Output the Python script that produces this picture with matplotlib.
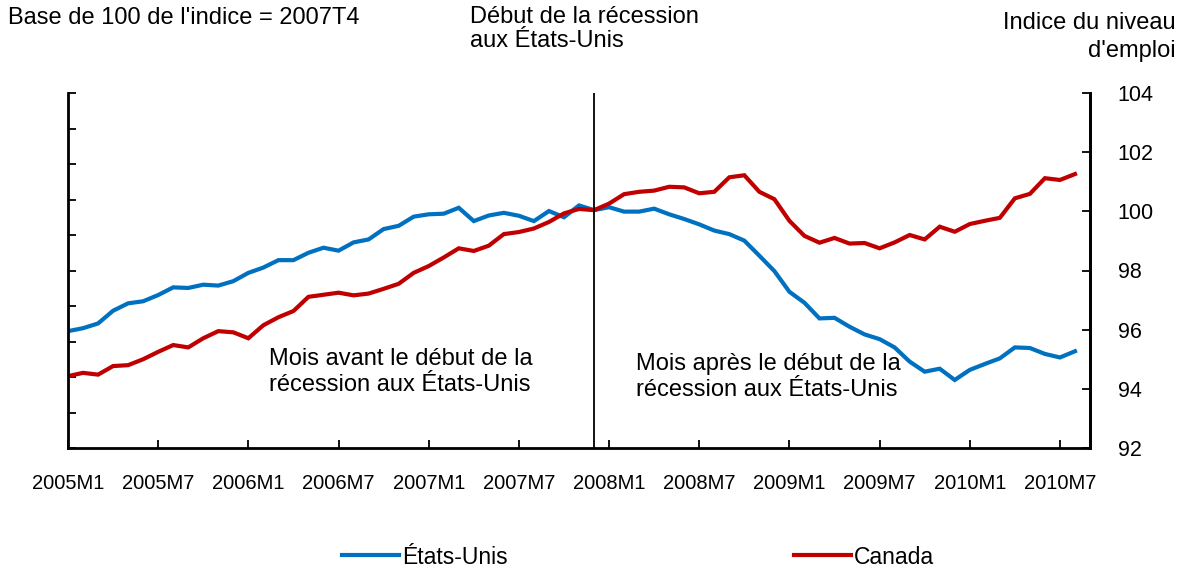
import numpy as np
import matplotlib.pyplot as plt

plt.rcParams['font.family'] = ['Liberation Sans', 'DejaVu Sans']

# months 2005M1 .. 2010M8
months = [f"{y}M{m}" for y in range(2005, 2011) for m in range(1, 13)][:68]
tick_labels = ["2005M1", "2005M7", "2006M1", "2006M7", "2007M1", "2007M7",
               "2008M1", "2008M7", "2009M1", "2009M7", "2010M1", "2010M7"]

etats_unis = [95.95, 96.05, 96.21, 96.64, 96.89, 96.96, 97.17, 97.43, 97.41, 97.52,
              97.49, 97.64, 97.92, 98.1, 98.35, 98.35, 98.6, 98.77, 98.67, 98.95,
              99.05, 99.40, 99.51, 99.82, 99.90, 99.92, 100.12, 99.67, 99.86, 99.95,
              99.85, 99.67, 100.01, 99.80, 100.2, 100.04, 100.14, 99.99, 99.99, 100.09,
              99.90, 99.74, 99.56, 99.35, 99.23, 99.01, 98.50, 97.98, 97.28, 96.91,
              96.38, 96.40, 96.10, 95.84, 95.68, 95.40, 94.92, 94.58, 94.68, 94.30,
              94.64, 94.84, 95.03, 95.40, 95.38, 95.18, 95.06, 95.27]

canada = [94.43, 94.54, 94.48, 94.77, 94.80, 95.00, 95.25, 95.48, 95.40, 95.71,
          95.95, 95.91, 95.71, 96.15, 96.42, 96.63, 97.11, 97.18, 97.25, 97.16,
          97.22, 97.38, 97.55, 97.92, 98.15, 98.44, 98.75, 98.66, 98.84, 99.23,
          99.30, 99.42, 99.64, 99.93, 100.08, 100.04, 100.26, 100.58, 100.66, 100.70,
          100.83, 100.81, 100.61, 100.66, 101.15, 101.22, 100.66, 100.41, 99.68, 99.17,
          98.94, 99.10, 98.91, 98.93, 98.75, 98.95, 99.20, 99.05, 99.48, 99.31,
          99.57, 99.68, 99.78, 100.44, 100.59, 101.12, 101.06, 101.26]

x = np.arange(len(months))
recession_start = months.index("2007M12")

fig = plt.figure(figsize=(11.82, 5.71), dpi=100)
ax = fig.add_axes([68 / 1182, 1 - 448 / 571, (1090 - 68) / 1182, (448 - 93) / 571])

ax.plot(x, etats_unis, color='#0070C0', lw=3, label='États-Unis', solid_joinstyle='miter')
ax.plot(x, canada, color='#C00000', lw=3, label='Canada', solid_joinstyle='miter')
ax.axvline(recession_start, color='black', lw=1.3)

ax.set_xlim(0, 68)
ax.set_ylim(92, 104)
ax.set_xticks([months.index(t) for t in tick_labels])
ax.set_xticklabels(tick_labels, fontsize=14.5)
ax.set_yticks(np.linspace(92, 104, 11))
ax.set_yticklabels([])
ax.tick_params(direction='in', length=6, width=1.3, pad=19)
ax.spines['top'].set_visible(False)
for s in ['left', 'right', 'bottom']:
    ax.spines[s].set_linewidth(2)

ax2 = ax.twinx()
ax2.set_ylim(92, 104)
ax2.set_yticks(np.arange(92, 105, 2))
ax2.tick_params(direction='in', length=6, width=1.3, labelsize=15.5, pad=20)
ax2.spines['top'].set_visible(False)
ax2.spines['right'].set_linewidth(2)

fig.text(8 / 1182, 1 - 18 / 571, "Base de 100 de l'indice = 2007T4", fontsize=17, va='center')
fig.text(470 / 1182, 1 - 29 / 571, "Début de la récession\naux États-Unis", fontsize=17,
         va='center', linespacing=1.1)
fig.text(1176 / 1182, 1 - 37 / 571, "Indice du niveau\nd'emploi", fontsize=17,
         va='center', ha='right', linespacing=1.3)
ax.text(13.4, 94.57, "Mois avant le début de la\nrécession aux États-Unis", fontsize=17,
        va='center', linespacing=1.2)
ax.text(37.8, 94.4, "Mois après le début de la\nrécession aux États-Unis", fontsize=17,
        va='center', linespacing=1.2)

fig.legend(loc='center', bbox_to_anchor=(638 / 1182, 1 - 557 / 571), ncol=2, frameon=False,
           fontsize=16.5, handlelength=2.5, handletextpad=0.12, columnspacing=12.5)

fig.savefig('out.png', dpi=100)
